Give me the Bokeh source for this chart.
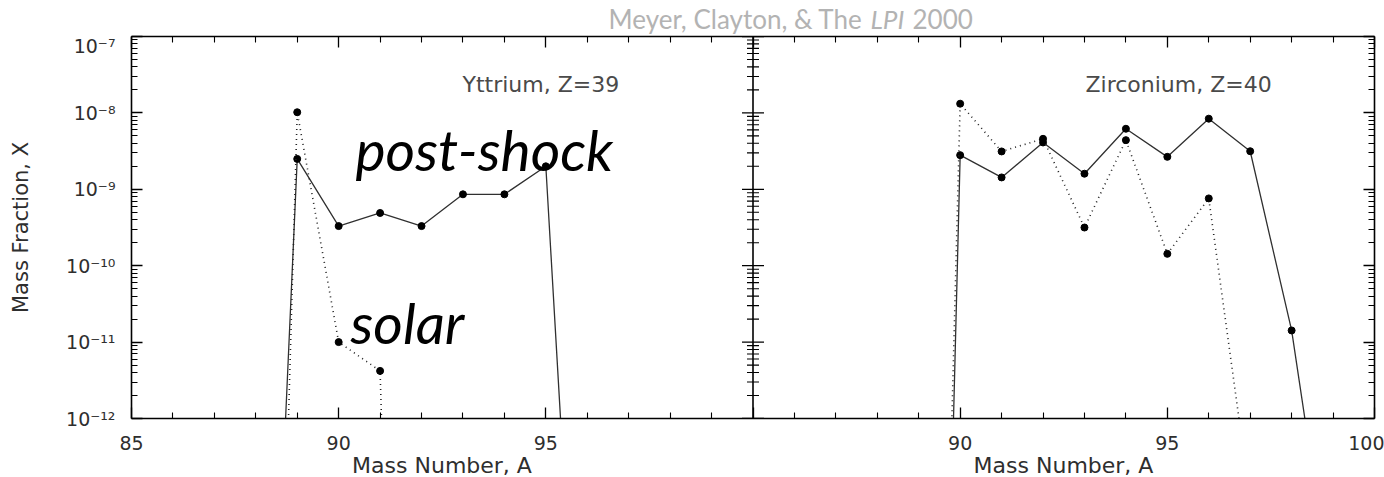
import json
from bokeh.plotting import figure
from bokeh.layouts import column
from bokeh.models import (Range1d, LinearAxis, LogAxis, FixedTicker,
                          CustomJSTickFormatter, Label, Span)
from bokeh.embed import file_html
from bokeh.resources import INLINE

# ---------------- data ----------------
# Yttrium, Z=39
y_A_post = [88, 89, 90, 91, 92, 93, 94, 95, 96]
y_X_post = [2e-21, 2.5e-9, 3.3e-10, 4.9e-10, 3.3e-10, 8.6e-10, 8.6e-10, 2.0e-9, 1e-18]
y_A_solar = [88, 89, 90, 91, 92]
y_X_solar = [1e-27, 1.02e-8, 1.0e-11, 4.2e-12, 1e-30]

# Zirconium, Z=40
zr_A_post = [89, 90, 91, 92, 93, 94, 95, 96, 97, 98, 99]
zr_X_post = [1e-30, 2.8e-9, 1.43e-9, 4.1e-9, 1.6e-9, 6.2e-9, 2.66e-9, 8.4e-9, 3.15e-9, 1.42e-11, 3.5e-15]
zr_A_solar = [89, 90, 91, 92, 93, 94, 95, 96, 97]
zr_X_solar = [3e-29, 1.32e-8, 3.13e-9, 4.58e-9, 3.16e-10, 4.4e-9, 1.43e-10, 7.6e-10, 8.5e-14]

# axis ticks (left panel 85-100 on main range, right panel 85-100 shown as 100-115)
x_tick_values = [85, 90, 95, 100, 105, 110, 115]
x_tick_labels = ["85", "90", "95", "", "90", "95", "100"]
x_minor_values = [v for v in range(86, 115) if v % 5 != 0]
y_decades = [-12, -11, -10, -9, -8, -7]
y_major = [10.0 ** e for e in y_decades]
y_minor = [k * 10.0 ** e for e in y_decades[:-1] for k in range(2, 10)]

TXT = "#2e2e2e"
FONT = "DejaVu Sans"
W = 1384

# vertical bands (page pixels): header 0-34, main 34-452, footer 452-477
HEAD_H, MAIN_TOP, MAIN_BOT, FOOT_H = 34, 34, 452, 25
FL, FR, FT, FB = 131, 1374, 36, 418   # frame of the main plot in page pixels

# ---------------- main plot ----------------
p = figure(width=W, height=MAIN_BOT - MAIN_TOP, title=None,
           x_range=Range1d(85, 115), y_range=Range1d(1e-12, 1e-7),
           y_axis_type="log", output_backend="svg", toolbar_location=None,
           min_border_left=FL, min_border_right=W - FR,
           min_border_top=FT - MAIN_TOP, min_border_bottom=MAIN_BOT - FB)
p.extra_x_ranges = {"zr": Range1d(70, 100)}
p.outline_line_color = None
p.grid.visible = False

x_ticker = FixedTicker(ticks=x_tick_values, minor_ticks=x_minor_values)
y_ticker = FixedTicker(ticks=y_major, minor_ticks=y_minor)

x_fmt = CustomJSTickFormatter(code="""
const vals = %s; const labs = %s;
for (let i = 0; i < vals.length; i++) { if (Math.abs(vals[i] - tick) < 1e-6) return labs[i]; }
return "";
""" % (json.dumps(x_tick_values), json.dumps(x_tick_labels)))

y_fmt = CustomJSTickFormatter(code="""
const e = Math.round(Math.log10(tick));
const sup = {"-":"\u207B","0":"\u2070","1":"\u00B9","2":"\u00B2","3":"\u00B3","4":"\u2074",
             "5":"\u2075","6":"\u2076","7":"\u2077","8":"\u2078","9":"\u2079"};
return "10" + String(e).split("").map(c => sup[c]).join("");
""")
blank_fmt = CustomJSTickFormatter(code='return "";')


def style(ax, labels):
    ax.axis_line_color = "black"
    ax.axis_line_width = 1.6
    ax.major_tick_line_color = "black"
    ax.major_tick_line_width = 1.3
    ax.minor_tick_line_color = "black"
    ax.minor_tick_line_width = 1.1
    ax.major_tick_out = 0
    ax.minor_tick_out = 0
    ax.major_tick_in = 11
    ax.minor_tick_in = 6
    if labels:
        ax.major_label_text_font = FONT
        ax.major_label_text_font_size = "19px"
        ax.major_label_text_color = TXT
    else:
        ax.major_label_text_font_size = "0px"
        ax.major_label_standoff = 0


bottom = p.xaxis[0]
bottom.ticker = x_ticker
bottom.formatter = x_fmt
style(bottom, True)
bottom.major_label_standoff = 17

left = p.yaxis[0]
left.ticker = y_ticker
left.formatter = y_fmt
style(left, True)
left.major_label_standoff = 16
left.axis_label = "Mass Fraction, X"
left.axis_label_text_font = FONT
left.axis_label_text_font_size = "21px"
left.axis_label_text_font_style = "normal"
left.axis_label_text_color = TXT
left.axis_label_standoff = 30

top = LinearAxis(ticker=x_ticker, formatter=blank_fmt)
style(top, False)
p.add_layout(top, "above")

right = LogAxis(ticker=y_ticker, formatter=blank_fmt)
style(right, False)
p.add_layout(right, "right")

# divider between the two panels with ticks on both sides
p.add_layout(Span(location=100, dimension="height", line_color="black", line_width=1.6))
p.scatter(x=[100] * len(y_major), y=y_major, marker="dash", size=22,
          line_color="black", line_width=1.3)
p.scatter(x=[100] * len(y_minor), y=y_minor, marker="dash", size=12,
          line_color="black", line_width=1.1)

LINE = "#303030"
# Yttrium panel
p.line(y_A_post, y_X_post, line_color=LINE, line_width=1.3)
p.scatter(y_A_post, y_X_post, size=7, color="black")
p.line(y_A_solar, y_X_solar, line_color="#222222", line_width=1.6, line_dash="1 4")
p.scatter(y_A_solar, y_X_solar, size=7, color="black")

# Zirconium panel
p.line(zr_A_post, zr_X_post, line_color=LINE, line_width=1.3, x_range_name="zr")
p.scatter(zr_A_post, zr_X_post, size=7, color="black", x_range_name="zr")
p.line(zr_A_solar, zr_X_solar, line_color="#222222", line_width=1.6, line_dash="1 4",
       x_range_name="zr")
p.scatter(zr_A_solar, zr_X_solar, size=7, color="black", x_range_name="zr")


def lab(fig, frame_left, frame_bottom, text, px, py, **kw):
    # px, py: page pixels (top-left origin); screen units are frame-relative
    opts = dict(x_units="screen", y_units="screen", text_font=FONT,
                text_color=TXT, text_font_size="21px", text_baseline="middle")
    opts.update(kw)
    fig.add_layout(Label(x=px - frame_left, y=frame_bottom - py, text=text, **opts))


# panel titles
lab(p, FL, FB, "Yttrium,  Z=39", 462, 84, text_color="#4a4a4a", text_font_size="22px")
lab(p, FL, FB, "Zirconium,  Z=40", 1085, 84, text_color="#4a4a4a", text_font_size="22px")

# handwritten annotations
lab(p, FL, FB, "post-shock", 355, 148, text_font="Lato", text_font_style="italic",
    text_font_size="57px", text_color="black")
lab(p, FL, FB, "solar", 350, 321, text_font="Lato", text_font_style="italic",
    text_font_size="57px", text_color="black")


def strip(height):
    f = figure(width=W, height=height, title=None, x_range=Range1d(0, W),
               y_range=Range1d(0, height), output_backend="svg", toolbar_location=None,
               min_border=0, min_border_left=FL, min_border_right=W - FR,
               min_border_top=0, min_border_bottom=0)
    f.axis.visible = False
    f.grid.visible = False
    f.outline_line_color = None
    return f


# ---------------- header: source line ----------------
head = strip(HEAD_H)
GRAY = "#b3b3b3"
lab(head, FL, HEAD_H, "Meyer, Clayton, & The", 862, 18, text_align="right",
    text_font="Lato", text_font_size="26px", text_color=GRAY)
lab(head, FL, HEAD_H, "LPI", 870, 18, text_align="left",
    text_font="Lato", text_font_style="italic", text_font_size="26px", text_color=GRAY)
lab(head, FL, HEAD_H, "2000", 912, 18, text_align="left",
    text_font="Lato", text_font_size="26px", text_color=GRAY)

# ---------------- footer: x-axis titles ----------------
foot = strip(FOOT_H)
lab(foot, FL, MAIN_BOT + FOOT_H, "Mass Number, A", 441.5, 465, text_align="center",
    text_font_size="22px")
lab(foot, FL, MAIN_BOT + FOOT_H, "Mass Number, A", 1063, 465, text_align="center",
    text_font_size="22px")

layout = column(head, p, foot, spacing=0)
open("out.html", "w").write(file_html(layout, INLINE))
